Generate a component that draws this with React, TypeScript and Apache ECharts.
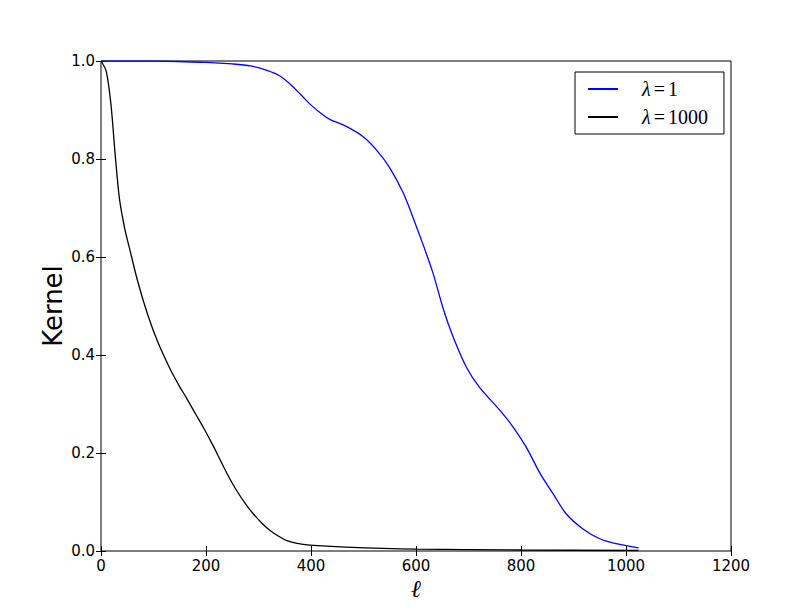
import React, { useEffect, useRef } from "react";
import * as echarts from "echarts";

// lambda = 1 (blue)
const blueX = [0, 100, 200, 250, 285, 316, 340, 360, 380, 398, 423, 436, 468, 500, 525, 550, 576, 598, 617, 633, 652, 671, 696, 721, 760, 785, 810, 836, 861, 886, 918, 950, 981, 1024];
const blueY = [1.0, 1.0, 0.997, 0.994, 0.99, 0.981, 0.97, 0.953, 0.932, 0.912, 0.89, 0.881, 0.866, 0.845, 0.818, 0.782, 0.73, 0.67, 0.615, 0.565, 0.494, 0.436, 0.375, 0.334, 0.287, 0.253, 0.212, 0.159, 0.117, 0.076, 0.045, 0.025, 0.015, 0.0065];

// lambda = 1000 (black)
const blackX = [0, 10, 19, 27, 35, 45, 54, 70, 89, 108, 131, 149, 163, 181, 195, 213, 227, 244, 258, 276, 290, 308, 322, 340, 354, 371, 398, 467, 600, 800, 1024];
const blackY = [1.0, 0.979, 0.911, 0.809, 0.72, 0.659, 0.619, 0.55, 0.482, 0.427, 0.373, 0.337, 0.312, 0.278, 0.252, 0.216, 0.186, 0.15, 0.124, 0.095, 0.076, 0.055, 0.042, 0.029, 0.021, 0.016, 0.012, 0.008, 0.004, 0.002, 0.001];

const seriesNames = ["λ=1", "λ=1000"];
const legendValues = ["1", "1000"];

export default function App() {
  const ref = useRef<HTMLDivElement>(null);
  useEffect(() => {
    const chart = echarts.init(ref.current!, null, { renderer: "svg" });
    const pair = (xs: number[], ys: number[]) => xs.map((x, i) => [x, ys[i]]);
    const tickFont = { fontFamily: "DejaVu Sans", fontSize: 15, color: "#000" };
    const tick = { inside: true, length: 5, lineStyle: { color: "#000", width: 1 } };
    chart.setOption({
      animation: false,
      backgroundColor: "#fff",
      grid: { left: 101, top: 61, width: 630, height: 490, show: true, borderColor: "#000", borderWidth: 1, backgroundColor: "transparent" },
      xAxis: [
        {
          type: "value", min: 0, max: 1200, interval: 200, position: "bottom",
          axisLine: { show: false }, axisTick: tick, splitLine: { show: false },
          axisLabel: { ...tickFont, margin: 7, formatter: (v: number) => String(v) },
          name: "ℓ", nameLocation: "middle", nameGap: 26, nameMoveOverlap: false,
          nameTextStyle: { fontFamily: "DejaVu Serif", fontStyle: "italic", fontSize: 24, color: "#000" },
        },
        {
          type: "value", min: 0, max: 1200, interval: 200, position: "top",
          axisLine: { show: false }, axisTick: tick, splitLine: { show: false }, axisLabel: { show: false },
        },
      ],
      yAxis: [
        {
          type: "value", min: 0, max: 1, interval: 0.2, position: "left",
          axisLine: { show: false }, axisTick: tick, splitLine: { show: false },
          axisLabel: { ...tickFont, margin: 6, formatter: (v: number) => v.toFixed(1) },
          name: "Kernel", nameLocation: "middle", nameGap: 48, nameRotate: 90, nameMoveOverlap: false,
          nameTextStyle: { fontFamily: "DejaVu Sans", fontSize: 26, color: "#000", verticalAlign: "middle" },
        },
        {
          type: "value", min: 0, max: 1, interval: 0.2, position: "right",
          axisLine: { show: false }, axisTick: tick, splitLine: { show: false }, axisLabel: { show: false },
        },
      ],
      legend: {
        orient: "vertical", left: 575, top: 72,
        backgroundColor: "#fff", borderColor: "#000", borderWidth: 1, borderRadius: 0,
        padding: [7, 16, 7, 13], itemWidth: 30, itemHeight: 2, itemGap: 8, icon: "rect",
        data: seriesNames,
        formatter: (n: string) => `{l|λ}{e|=}{n|${legendValues[seriesNames.indexOf(n)]}}`,
        textStyle: {
          padding: [0, 0, 0, 19],
          rich: {
            l: { fontFamily: "Liberation Serif", fontStyle: "italic", fontSize: 20, lineHeight: 20, color: "#000" },
            e: { fontFamily: "Liberation Serif", fontSize: 20, lineHeight: 20, padding: [0, 3], color: "#000" },
            n: { fontFamily: "Liberation Serif", fontSize: 20, lineHeight: 20, color: "#000" },
          },
        },
      },
      series: [
        {
          name: seriesNames[0], type: "line", data: pair(blueX, blueY), symbol: "none",
          smooth: 0.3,
          lineStyle: { color: "#0000ff", width: 1.3 }, itemStyle: { color: "#0000ff" },
        },
        {
          name: seriesNames[1], type: "line", data: pair(blackX, blackY), symbol: "none",
          smooth: 0.3,
          lineStyle: { color: "#000000", width: 1.3 }, itemStyle: { color: "#000000" },
        },
      ],
    });
    return () => chart.dispose();
  }, []);
  return <div ref={ref} style={{ position: "absolute", left: 0, top: 0, width: 812, height: 612 }} />;
}
